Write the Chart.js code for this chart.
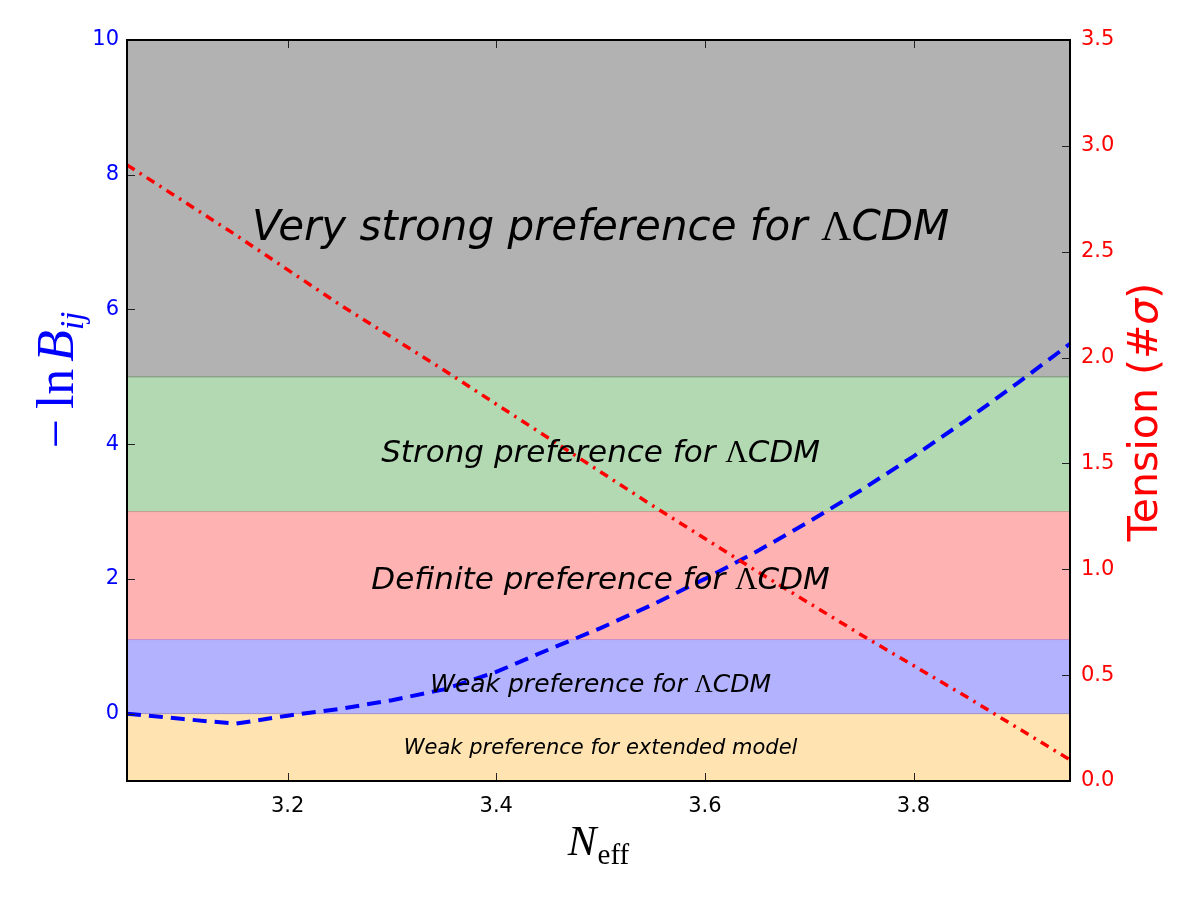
<!DOCTYPE html>
<html><head><meta charset="utf-8">
<script src="https://cdn.jsdelivr.net/npm/chart.js@4.4.0/dist/chart.umd.min.js"></script>
<style>html,body{margin:0;padding:0;background:#fff}#wrap{width:1200px;height:900px}</style>
</head><body><div id="wrap"><canvas id="c" width="1200" height="900"></canvas></div>
<script>
// ---- data ----
const neff = [3.046,3.10,3.15,3.20,3.25,3.30,3.35,3.40,3.45,3.50,3.55,3.60,3.65,3.70,3.75,3.80,3.85,3.90,3.95];
const lnB  = [0.00,-0.08,-0.15,-0.03,0.07,0.20,0.36,0.62,0.95,1.27,1.62,2.00,2.41,2.85,3.32,3.82,4.35,4.91,5.49];
const tensionNeff = [3.046,3.15,3.25,3.35,3.45,3.55,3.65,3.75,3.85,3.95];
const tension     = [2.91,2.58,2.25,1.94,1.62,1.30,0.99,0.69,0.40,0.10];
const bandEdges = [-1,0,1.1,3,5,10];
const bandLabels = ['Weak preference for extended model','Weak preference for ΛCDM','Definite preference for ΛCDM','Strong preference for ΛCDM','Very strong preference for ΛCDM'];
const bandLabelY = [-0.52,0.42,1.97,3.86,7.2];
const bandLabelX = 3.5;
const xTicks = [3.2,3.4,3.6,3.8];
const yTicks = [0,2,4,6,8,10];
const y2Ticks = [0,0.5,1.0,1.5,2.0,2.5,3.0,3.5];
const xMin = 3.046, xMax = 3.95;

// ---- styles ----
const bandColors = ['rgba(255,165,0,0.3)','rgba(0,0,255,0.3)','rgba(255,0,0,0.3)','rgba(0,128,0,0.3)','rgba(0,0,0,0.3)'];
const edgeColors = ['rgba(0,0,0,0)','rgba(110,80,150,0.45)','rgba(170,60,150,0.35)','rgba(150,80,80,0.35)','rgba(40,80,40,0.45)','rgba(0,0,0,0)'];
const labelSizes = [21,25,31,31,42];

const datasets = [];
bandEdges.forEach((e,i)=>{
  datasets.push({
    data:[{x:xMin,y:e},{x:xMax,y:e}],
    yAxisID:'y', fill: i===0 ? false : '-1',
    backgroundColor: i===0 ? 'rgba(0,0,0,0)' : bandColors[i-1],
    borderColor: edgeColors[i], borderWidth:1, pointRadius:0, order:5
  });
});
datasets.push({
  data: neff.map((v,i)=>({x:v,y:lnB[i]})), yAxisID:'y', fill:false,
  borderColor:'#0000ff', borderWidth:4, borderDash:[14,8], pointRadius:0, tension:0, order:1
});
datasets.push({
  data: tensionNeff.map((v,i)=>({x:v,y:tension[i]})), yAxisID:'y2', fill:false,
  borderColor:'#ff0000', borderWidth:3.5, borderDash:[9,6,2.5,6], pointRadius:0, tension:0, order:0
});

function drawSegs(ctx, segs, x0, y0, align){
  let w = 0;
  segs.forEach(s=>{ctx.font=s.f; s.w=ctx.measureText(s.t).width + (s.gap||0); w+=s.w;});
  let x = align==='center' ? x0 - w/2 : x0;
  ctx.textAlign='left';
  segs.forEach(s=>{ctx.font=s.f; ctx.fillText(s.t,x,y0+(s.dy||0)); x+=s.w;});
}

function drawMixed(ctx, text, cx, cy, size){
  const parts = text.split('Λ');
  const segs = [];
  parts.forEach((p,i)=>{
    if(i>0) segs.push({t:'Λ', f:size+'px "Liberation Serif"'});
    if(p) segs.push({t:p, f:'italic '+size+'px "DejaVu Sans"'});
  });
  ctx.textBaseline='middle'; ctx.fillStyle='#000';
  drawSegs(ctx, segs, cx, cy, 'center');
}

const decor = {
  id:'decor',
  afterDatasetsDraw(chart){
    const ctx = chart.ctx, xs = chart.scales.x, ys = chart.scales.y;
    ctx.save();
    bandLabels.forEach((t,i)=>{
      drawMixed(ctx, t, xs.getPixelForValue(bandLabelX), ys.getPixelForValue(bandLabelY[i]), labelSizes[i]);
    });
    ctx.restore();
  },
  afterDraw(chart){
    const ctx = chart.ctx, a = chart.chartArea;
    const xs = chart.scales.x, ys = chart.scales.y, y2 = chart.scales.y2;
    ctx.save();
    // inner ticks
    ctx.strokeStyle='#222'; ctx.lineWidth=1;
    ctx.beginPath();
    xTicks.forEach(v=>{const p=Math.round(xs.getPixelForValue(v))+0.5; ctx.moveTo(p,a.bottom); ctx.lineTo(p,a.bottom-8); ctx.moveTo(p,a.top); ctx.lineTo(p,a.top+8);});
    yTicks.forEach(v=>{const p=Math.round(ys.getPixelForValue(v))+0.5; ctx.moveTo(a.left,p); ctx.lineTo(a.left+8,p);});
    y2Ticks.forEach(v=>{const p=Math.round(y2.getPixelForValue(v))+0.5; ctx.moveTo(a.right,p); ctx.lineTo(a.right-8,p);});
    ctx.stroke();
    // frame
    ctx.strokeStyle='#000'; ctx.lineWidth=2;
    ctx.strokeRect(a.left,a.top,a.right-a.left,a.bottom-a.top);
    // left title: −ln B_ij
    ctx.save();
    ctx.translate(73, 380); ctx.rotate(-Math.PI/2);
    ctx.fillStyle='#0000ff'; ctx.textBaseline='alphabetic';
    drawSegs(ctx, [
      {t:'−',f:'52px "Liberation Serif"',gap:10},
      {t:'ln',f:'52px "Liberation Serif"',gap:7},
      {t:'B',f:'italic 52px "Liberation Serif"'},
      {t:'ij',f:'italic 33px "Liberation Serif"',dy:10}
    ], 0, 0, 'center');
    ctx.restore();
    // right title: Tension (#σ)
    ctx.save();
    ctx.translate(1157, 412); ctx.rotate(-Math.PI/2);
    ctx.fillStyle='#ff0000'; ctx.textBaseline='alphabetic';
    drawSegs(ctx, [
      {t:'Tension (#',f:'41px "DejaVu Sans"'},
      {t:'σ',f:'italic 41px "DejaVu Sans"'},
      {t:')',f:'41px "DejaVu Sans"'}
    ], 0, 0, 'center');
    ctx.restore();
    // x title N_eff
    ctx.save();
    ctx.fillStyle='#000'; ctx.textBaseline='alphabetic';
    drawSegs(ctx, [
      {t:'N',f:'italic 43px "Liberation Serif"',gap:1},
      {t:'eff',f:'29px "Liberation Serif"',dy:9}
    ], (a.left+a.right)/2, 855, 'center');
    ctx.restore();
    ctx.restore();
  }
};

new Chart(document.getElementById('c'), {
  type:'line',
  data:{datasets},
  options:{
    responsive:false, animation:false, events:[],
    layout:{padding:{top:40,left:0,right:0,bottom:0}},
    plugins:{legend:{display:false},tooltip:{enabled:false}},
    scales:{
      x:{type:'linear', min:xMin, max:xMax,
        afterBuildTicks:s=>{s.ticks=xTicks.map(v=>({value:v}));},
        afterFit:s=>{s.height=119;},
        grid:{display:false,drawTicks:false}, border:{display:false},
        ticks:{color:'#000',font:{family:'DejaVu Sans',size:21},padding:13,maxRotation:0,callback:v=>v.toFixed(1)}},
      y:{type:'linear', position:'left', min:-1, max:10,
        afterBuildTicks:s=>{s.ticks=yTicks.map(v=>({value:v}));},
        afterFit:s=>{s.width=127;},
        grid:{display:false,drawTicks:false}, border:{display:false},
        ticks:{color:'#0000ff',font:{family:'DejaVu Sans',size:21},padding:8,callback:v=>String(v)}},
      y2:{type:'linear', position:'right', min:0, max:3.5,
        afterBuildTicks:s=>{s.ticks=y2Ticks.map(v=>({value:v}));},
        afterFit:s=>{s.width=130;},
        grid:{display:false,drawTicks:false}, border:{display:false},
        ticks:{color:'#ff0000',font:{family:'DejaVu Sans',size:21},padding:11,callback:v=>v.toFixed(1)}}
    }
  },
  plugins:[decor]
});
</script></body></html>
